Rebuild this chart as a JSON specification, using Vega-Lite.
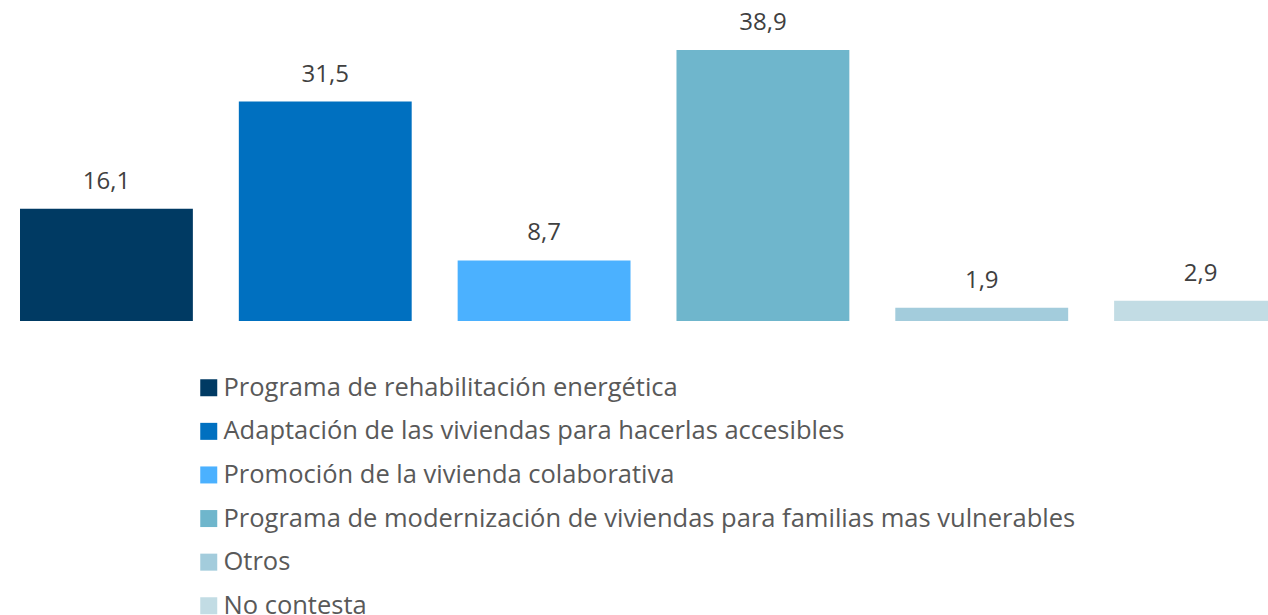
{
  "$schema": "https://vega.github.io/schema/vega-lite/v6.json",
  "autosize": {"type": "none"},
  "width": 1248,
  "height": 321,
  "padding": {"left": 20, "top": 0, "right": 0, "bottom": 294},
  "background": "white",
  "config": {"view": {"stroke": null}, "font": "Open Sans"},
  "data": {"values": [
    {"cat": "Programa de rehabilitación energética", "value": 16.1, "label": "16,1"},
    {"cat": "Adaptación de las viviendas para hacerlas accesibles", "value": 31.5, "label": "31,5"},
    {"cat": "Promoción de la vivienda colaborativa", "value": 8.7, "label": "8,7"},
    {"cat": "Programa de modernización de viviendas para familias mas vulnerables", "value": 38.9, "label": "38,9"},
    {"cat": "Otros", "value": 1.9, "label": "1,9"},
    {"cat": "No contesta", "value": 2.9, "label": "2,9"}
  ]},
  "encoding": {
    "x": {"field": "cat", "type": "nominal", "sort": null, "axis": null,
          "scale": {"range": [0, 1267], "paddingInner": 0.21, "paddingOuter": 0}},
    "y": {"field": "value", "type": "quantitative", "axis": null,
          "scale": {"domain": [0, 46.08], "nice": false, "zero": true}}
  },
  "layer": [
    {
      "mark": {"type": "bar"},
      "encoding": {
        "color": {"field": "cat", "type": "nominal", "sort": null,
          "scale": {"range": ["#003A63", "#0070C0", "#4BB1FF", "#6FB6CC", "#A3CCDC", "#C2DCE4"]},
          "legend": {"title": null, "orient": "none", "legendX": 176, "legendY": 375,
            "direction": "vertical", "symbolType": "square", "symbolSize": 289,
            "symbolStrokeWidth": 0, "labelFontSize": 25.5, "labelColor": "#595959",
            "labelFont": "Open Sans", "rowPadding": 16.6, "labelLimit": 1000, "labelOffset": 2}}
      }
    },
    {
      "mark": {"type": "text", "baseline": "alphabetic", "dy": -20, "fontSize": 24, "color": "#404040", "font": "Open Sans"},
      "encoding": {"text": {"field": "label"}}
    }
  ]
}
